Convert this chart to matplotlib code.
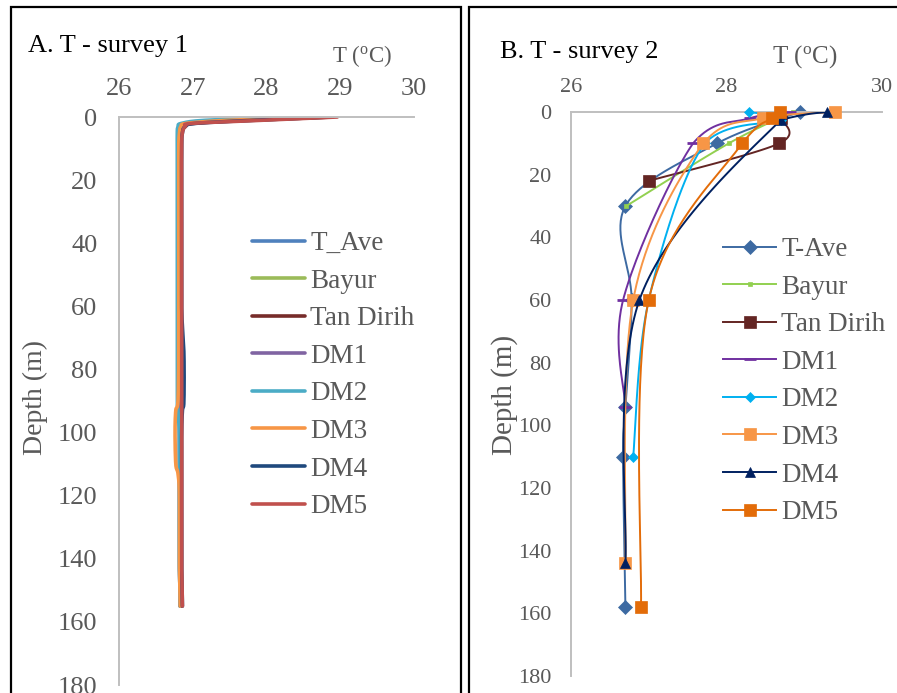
import numpy as np
import matplotlib
matplotlib.use("Agg")
import matplotlib.pyplot as plt
from matplotlib.lines import Line2D
from matplotlib.patches import Rectangle

plt.rcParams.update({
    "font.family": ["Liberation Serif", "DejaVu Serif"],
    "mathtext.fontset": "custom",
    "mathtext.rm": "Liberation Serif",
})

GRAY = "#595959"
AXIS = "#BFBFBF"

# ── survey 1 (panel A) ───────────────────────────────────
depth_a = [0, 1, 2, 3, 5, 10, 30, 60, 75, 90, 93, 100, 110, 113, 120, 140, 155]
names_a = ["T_Ave", "Bayur", "Tan Dirih", "DM1", "DM2", "DM3", "DM4", "DM5"]
t_ave_a = [28.80, 27.70, 26.98, 26.88, 26.84, 26.82, 26.82, 26.82, 26.82, 26.82, 26.82, 26.82, 26.82, 26.82, 26.82, 26.82, 26.83]
bayur_a = [28.60, 27.50, 26.95, 26.86, 26.83, 26.82, 26.82, 26.82, 26.82, 26.82, 26.82, 26.82, 26.82, 26.82, 26.82, 26.82, 26.83]
tandirih_a = [28.90, 27.80, 27.02, 26.90, 26.85, 26.83, 26.83, 26.83, 26.83, 26.83, 26.83, 26.83, 26.83, 26.83, 26.83, 26.83, 26.84]
dm1_a = [28.50, 27.40, 26.93, 26.85, 26.83, 26.82, 26.82, 26.82, 26.82, 26.82, 26.82, 26.82, 26.82, 26.82, 26.82, 26.82, 26.83]
dm2_a = [28.40, 27.20, 26.85, 26.80, 26.79, 26.79, 26.79, 26.79, 26.79, 26.79, 26.80, 26.82, 26.82, 26.82, 26.82, 26.82, 26.83]
dm3_a = [28.60, 27.50, 26.92, 26.84, 26.82, 26.81, 26.81, 26.81, 26.81, 26.80, 26.77, 26.76, 26.77, 26.80, 26.82, 26.82, 26.83]
dm4_a = [28.85, 27.85, 27.05, 26.90, 26.86, 26.85, 26.85, 26.85, 26.88, 26.88, 26.86, 26.85, 26.85, 26.85, 26.85, 26.85, 26.86]
dm5_a = [28.96, 28.00, 27.00, 26.90, 26.86, 26.85, 26.85, 26.85, 26.85, 26.85, 26.85, 26.85, 26.85, 26.85, 26.85, 26.85, 26.86]
temps_a = [t_ave_a, bayur_a, tandirih_a, dm1_a, dm2_a, dm3_a, dm4_a, dm5_a]
colors_a = ["#4F81BD", "#9BBB59", "#772C2A", "#8064A2", "#4BACC6", "#F79646", "#1F497D", "#C0504D"]

# ── survey 2 (panel B) ───────────────────────────────────
names_b = ["T-Ave", "Bayur", "Tan Dirih", "DM1", "DM2", "DM3", "DM4", "DM5"]
depth_b = [
    [0, 10, 30, 60, 94, 110, 158],
    [0, 10, 30],
    [2, 10, 22],
    [0, 2, 10, 60, 94],
    [0, 2.5, 10, 60, 110],
    [0, 2, 10, 60, 144],
    [0, 2.5, 60, 144],
    [0, 2, 10, 60, 158],
]
temp_b = [
    [28.94, 27.88, 26.70, 26.78, 26.70, 26.67, 26.70],
    [28.85, 28.03, 26.71],
    [28.70, 28.68, 27.00],
    [28.82, 28.30, 27.57, 26.67, 26.70],
    [28.29, 28.70, 27.72, 27.00, 26.80],
    [29.39, 28.47, 27.70, 26.80, 26.70],
    [29.29, 28.70, 26.88, 26.70],
    [28.69, 28.58, 28.20, 27.00, 26.90],
]
colors_b = ["#3D6AA2", "#92D050", "#632523", "#7030A0", "#00B0F0", "#F79646", "#002060", "#E36C09"]
markers_b = ["D", "s", "s", "_", "D", "s", "^", "s"]
msize_b = [7, 3, 9, 8, 5, 8, 7, 9]


def excel_smooth(x, y, n=40):
    """Bezier smoothing like Excel's 'smoothed line' option."""
    pts = np.column_stack([x, y]).astype(float)
    if len(pts) < 3:
        return pts[:, 0], pts[:, 1]
    out = []
    last = len(pts) - 1
    t = np.linspace(0, 1, n)[:, None]
    for i in range(last):
        p0, p1, p2, p3 = pts[max(i - 1, 0)], pts[i], pts[i + 1], pts[min(i + 2, last)]
        c1 = p1 + (p2 - p0) / 6
        c2 = p2 - (p3 - p1) / 6
        lo, hi = sorted((p1[1], p2[1]))
        c1[1] = np.clip(c1[1], lo, hi)
        c2[1] = np.clip(c2[1], lo, hi)
        seg = (1 - t) ** 3 * p1 + 3 * (1 - t) ** 2 * t * c1 + 3 * (1 - t) * t ** 2 * c2 + t ** 3 * p2
        out.append(seg if i == 0 else seg[1:])
    s = np.vstack(out)
    return s[:, 0], s[:, 1]


def style_axes(ax, xticks, tick_fs, xpad, ypad):
    ax.set_xlim(26, 30)
    ax.set_ylim(180, 0)
    ax.xaxis.tick_top()
    ax.set_xticks(xticks)
    ax.set_yticks(range(0, 181, 20))
    ax.tick_params(length=0, labelsize=tick_fs, labelcolor=GRAY)
    ax.tick_params(axis="x", pad=xpad)
    ax.tick_params(axis="y", pad=ypad)
    for s in ["bottom", "right"]:
        ax.spines[s].set_visible(False)
    for s in ["top", "left"]:
        ax.spines[s].set_color(AXIS)
        ax.spines[s].set_linewidth(1.4)
    ax.patch.set_alpha(0)


W, H = 897, 693
fig = plt.figure(figsize=(W / 100, H / 100), dpi=100)


def fx(px):
    return px / W


def fy(py):
    return 1 - py / H


# panel frames
fig.add_artist(Rectangle((fx(11), fy(720)), fx(461 - 11), (720 - 7) / H,
                         transform=fig.transFigure, fill=False, ec="black", lw=1.6))
fig.add_artist(Rectangle((fx(469), fy(720)), fx(920 - 469), (720 - 7) / H,
                         transform=fig.transFigure, fill=False, ec="black", lw=1.6))

# ── panel A ──
axA = fig.add_axes([fx(119), fy(685), fx(414 - 119), (685 - 117) / H])
style_axes(axA, [26, 27, 28, 29, 30], 19, 12, 15.5)
for name, temps, c in zip(names_a, temps_a, colors_a):
    sx, sy = excel_smooth(temps, depth_a)
    axA.plot(sx, sy, color=c, lw=2.6, solid_capstyle="round", label=name)
axA.set_ylabel("Depth (m)", fontsize=20, color=GRAY)
axA.yaxis.set_label_coords(-0.242, 0.507)
legA = axA.legend(loc="upper left", bbox_to_anchor=(fx(252), fy(231)), bbox_transform=fig.transFigure,
                  frameon=False, fontsize=19.5, handlelength=1.96, handletextpad=0.19,
                  labelspacing=0.465, borderpad=0, borderaxespad=0)
for t in legA.get_texts():
    t.set_color(GRAY)

fig.text(fx(28), fy(52), "A. T - survey 1", fontsize=19, color="black", va="baseline")
fig.text(fx(362), fy(62), r"T ($\mathregular{^o}$C)", fontsize=16.5, color=GRAY, ha="center", va="baseline")

# ── panel B ──
axB = fig.add_axes([fx(571), fy(676), fx(882 - 571), (676 - 112) / H])
style_axes(axB, [26, 28, 30], 16, 11, 14)
handles = []
for i, (name, d, tv, c, m, ms) in enumerate(zip(names_b, depth_b, temp_b, colors_b, markers_b, msize_b)):
    sx, sy = excel_smooth(tv, d)
    axB.plot(sx, sy, color=c, lw=1.4, zorder=2 + i)
    mew = 2 if m == "_" else 0.5
    axB.plot(tv, d, ls="none", marker=m, ms=ms, color=c, mec=c, mew=mew, zorder=2 + i, clip_on=False)
    handles.append(Line2D([0], [0], color=c, lw=1.4, marker=m, ms=ms, mec=c, mew=mew, label=name))
axB.set_ylabel("Depth (m)", fontsize=21, color=GRAY)
axB.yaxis.set_label_coords(-0.17, 0.498)
legB = axB.legend(handles=handles, loc="upper left", bbox_to_anchor=(fx(723), fy(237)),
                  bbox_transform=fig.transFigure, frameon=False, fontsize=19.5, handlelength=1.96,
                  handletextpad=0.19, labelspacing=0.465, borderpad=0, borderaxespad=0)
for t in legB.get_texts():
    t.set_color(GRAY)

fig.text(fx(500), fy(58), "B. T - survey 2", fontsize=19, color="black", va="baseline")
fig.text(fx(805), fy(63), r"T ($\mathregular{^o}$C)", fontsize=18, color=GRAY, ha="center", va="baseline")

fig.savefig("out.png", dpi=100)
